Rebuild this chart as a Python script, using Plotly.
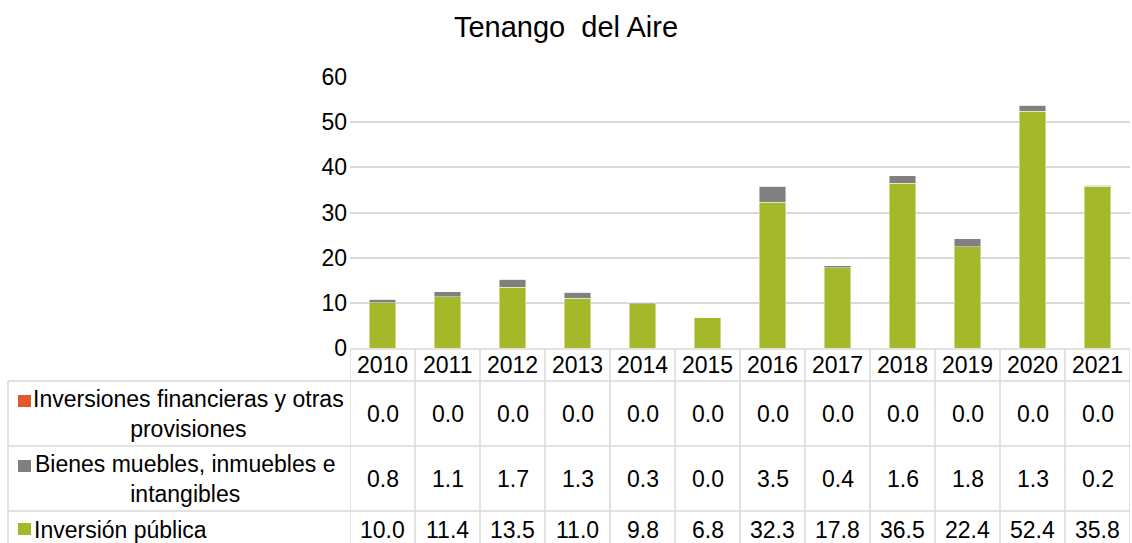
import plotly.graph_objects as go

years = ["2010", "2011", "2012", "2013", "2014", "2015", "2016", "2017", "2018", "2019", "2020", "2021"]
inversion_publica = [10.0, 11.4, 13.5, 11.0, 9.8, 6.8, 32.3, 17.8, 36.5, 22.4, 52.4, 35.8]
bienes_muebles = [0.8, 1.1, 1.7, 1.3, 0.3, 0.0, 3.5, 0.4, 1.6, 1.8, 1.3, 0.2]
inversiones_financieras = [0.0, 0.0, 0.0, 0.0, 0.0, 0.0, 0.0, 0.0, 0.0, 0.0, 0.0, 0.0]

series_names = ["Inversiones financieras y otras<br>provisiones", "Bienes muebles, inmuebles e<br>intangibles", "Inversión pública"]
series_values = [inversiones_financieras, bienes_muebles, inversion_publica]
series_colors = ["#e4572b", "#808080", "#a5b82a"]

title_text = "Tenango  del Aire"
y_ticks = [0, 10, 20, 30, 40, 50, 60]

FONT = "Liberation Sans, Arial, sans-serif"
W, H = 1132, 543
L, R, T, B = 350, 2, 77, 195
PW, PH = W - L - R, H - T - B
GRID = "#d9d9d9"


def px(xp):
    return (xp - L) / PW


def py(yp):
    return (H - B - yp) / PH


fig = go.Figure()
# stacked bars: bottom first
for name, vals, col in reversed(list(zip(series_names, series_values, series_colors))):
    fig.add_trace(go.Bar(
        x=years, y=vals, name=name.replace("<br>", " "),
        marker=dict(color=col, line=dict(color="rgba(255,255,255,0.55)", width=0.8)),
        showlegend=False, hoverinfo="x+y+name",
    ))

shapes = []
annotations = []

# table geometry (pixel rows)
header_top, header_bot = 349, 381
row_bounds = [(381, 446), (446, 511), (511, 549)]
left_edge = 8
line = dict(color=GRID, width=1.5)

# horizontal lines
shapes.append(dict(type="line", xref="paper", yref="paper", x0=0, x1=1, y0=py(header_top), y1=py(header_top), line=line))
for (t, b) in row_bounds:
    shapes.append(dict(type="line", xref="paper", yref="paper", x0=px(left_edge), x1=1, y0=py(t), y1=py(t), line=line))
# vertical lines at category boundaries
n = len(years)
for i in range(n + 1):
    shapes.append(dict(type="line", xref="x", yref="paper", x0=i - 0.5, x1=i - 0.5,
                       y0=py(header_top), y1=py(H + 10), line=line))
shapes.append(dict(type="line", xref="paper", yref="paper", x0=px(left_edge), x1=px(left_edge),
                   y0=py(header_bot), y1=py(H + 10), line=line))

TF = dict(family=FONT, size=23, color="#000000")

# header years
for i, yr in enumerate(years):
    annotations.append(dict(x=i, xref="x", y=py((header_top + header_bot) / 2), yref="paper",
                            text=yr, showarrow=False, font=TF, xanchor="center", yanchor="middle"))

# rows
label_centers = [188, 185, None]
marker_tops = [395, 460, 523]
for r, (name, vals, col) in enumerate(zip(series_names, series_values, series_colors)):
    t, b = row_bounds[r]
    cy = (t + b) / 2 if r < 2 else 530
    for i, v in enumerate(vals):
        annotations.append(dict(x=i, xref="x", y=py(cy), yref="paper",
                                text=f"{v:.1f}", showarrow=False, font=TF,
                                xanchor="center", yanchor="middle"))
    # legend key square
    mt = marker_tops[r]
    shapes.append(dict(type="rect", xref="paper", yref="paper", x0=px(18), x1=px(31),
                       y0=py(mt + 12), y1=py(mt), fillcolor=col, line=dict(width=0)))
    if label_centers[r] is not None:
        annotations.append(dict(x=px(label_centers[r]), xref="paper", y=py(cy), yref="paper",
                                text=name, showarrow=False, font=TF, align="center",
                                xanchor="center", yanchor="middle"))
    else:
        annotations.append(dict(x=px(32), xref="paper", y=py(cy), yref="paper",
                                text=name, showarrow=False, font=TF, align="left",
                                xanchor="left", yanchor="middle"))

fig.update_layout(
    width=W, height=H,
    margin=dict(l=L, r=R, t=T, b=B, autoexpand=False),
    barmode="stack", bargap=0.585,
    paper_bgcolor="white", plot_bgcolor="white",
    title=dict(text=title_text, x=0.5, xanchor="center", y=1 - 27 / H, yanchor="middle",
               font=dict(family=FONT, size=29, color="#000000")),
    xaxis=dict(type="category", showticklabels=False, showgrid=False, zeroline=False, showline=False,
               categoryorder="array", categoryarray=years, range=[-0.5, n - 0.5]),
    yaxis=dict(range=[0, 60], tickvals=y_ticks, showgrid=True, gridcolor=GRID, gridwidth=1.5,
               zeroline=False, showline=False, ticks="", ticklabelstandoff=2,
               tickfont=dict(family=FONT, size=23, color="#000000")),
    shapes=shapes, annotations=annotations,
    font=dict(family=FONT),
)

fig.write_html("out.html", config={"displayModeBar": False},
               post_script="document.body.style.margin='0px';")
